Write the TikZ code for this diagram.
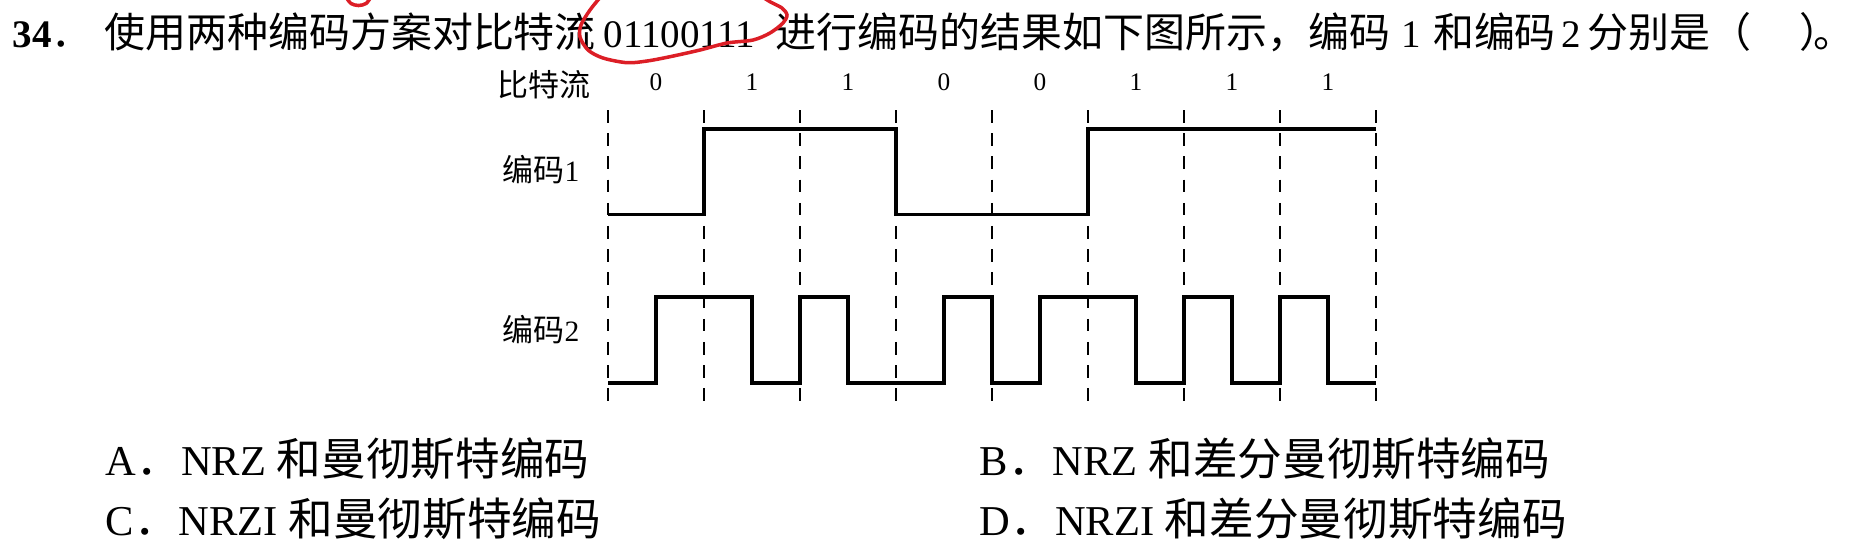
\documentclass[tikz,border=0pt]{standalone}
\usepackage{fontspec}
\setmainfont{Liberation Serif}
\newfontfamily\zh{Noto Sans CJK SC}[Scale=1.05]
\definecolor{pen}{RGB}{220,30,38}

\begin{document}
\begin{tikzpicture}[every node/.style={inner sep=0pt},
  sig/.style={line width=1pt},
  bnd/.style={line width=0.7pt,dash pattern=on 3.6pt off 3pt},
  ink/.style={pen,line width=1pt,line cap=round},
  qst/.style={font=\fontsize{11.1}{13}\selectfont,anchor=base west},
  opt/.style={font=\fontsize{12.1}{14}\selectfont,anchor=base west},
  lbl/.style={font=\fontsize{8.4}{10}\selectfont,anchor=west},
  bit/.style={font=\fontsize{7.2}{8}\selectfont}]
\useasboundingbox (0,0) rectangle (18.58,-5.56);
% levels: code 1 high/low, code 2 high/low
\def\hia{-1.29}\def\loa{-2.145}
\def\hib{-2.97}\def\lob{-3.83}
%------------- question
\node[qst] (q) at (0.12,-0.47) {\textbf{34}{\zh ．}\hspace{0.3em}{\zh 使用两种编码方案对比特流}\hspace{0.2em}01100111\hspace{0.52em}{\zh 进行编码的结果如下图所示，编码}\hspace{0.3em}1\hspace{0.3em}{\zh 和编码}\hspace{0.15em}2\hspace{0.15em}{\zh 分别是（}\hspace{1.25em}{\zh ）\kern-0.66em 。}};
% red pen marks
\draw[ink] plot[smooth] coordinates {(6.03,0.06) (5.90,-0.10) (5.81,-0.25) (5.80,-0.37) (5.88,-0.50) (6.03,-0.58) (6.27,-0.627) (6.47,-0.61) (6.70,-0.567) (7.00,-0.50) (7.27,-0.43) (7.53,-0.40) (7.70,-0.33) (7.83,-0.23) (7.87,-0.15) (7.82,-0.08) (7.70,-0.017) (7.58,0.06)};
\draw[ink] plot[smooth] coordinates {(3.46,0.03) (3.51,-0.035) (3.585,-0.055) (3.66,-0.035) (3.71,0.03)};
%------------- row labels
\node[lbl] (lbits) at (4.97,-0.85) {\zh 比特流};
\node[lbl] (lone) at (5.02,-1.695) {{\zh 编码}1};
\node[lbl] (ltwo) at (5.02,-3.30) {{\zh 编码}2};
%------------- waveforms, one unit = one bit cell
\begin{scope}[xshift=6.08cm,x=0.96cm]
\node[bit] (b0) at (0.5,-0.82) {0}; \node[bit] (b1) at (1.5,-0.82) {1};
\node[bit] (b2) at (2.5,-0.82) {1}; \node[bit] (b3) at (3.5,-0.82) {0};
\node[bit] (b4) at (4.5,-0.82) {0}; \node[bit] (b5) at (5.5,-0.82) {1};
\node[bit] (b6) at (6.5,-0.82) {1}; \node[bit] (b7) at (7.5,-0.82) {1};
\draw[bnd] (0,-1.10) -- (0,-4.02); \draw[bnd] (1,-1.10) -- (1,-4.02);
\draw[bnd] (2,-1.10) -- (2,-4.02); \draw[bnd] (3,-1.10) -- (3,-4.02);
\draw[bnd] (4,-1.10) -- (4,-4.02); \draw[bnd] (5,-1.10) -- (5,-4.02);
\draw[bnd] (6,-1.10) -- (6,-4.02); \draw[bnd] (7,-1.10) -- (7,-4.02);
\draw[bnd] (8,-1.10) -- (8,-4.02);
% code 1
\draw[sig] (0,\loa) -- (1,\loa) -- (1,\hia) -- (3,\hia) -- (3,\loa) -- (5,\loa) -- (5,\hia) -- (8,\hia);
% code 2
\draw[sig] (0,\lob) -- (0.5,\lob) -- (0.5,\hib) -- (1.5,\hib) -- (1.5,\lob) -- (2,\lob) -- (2,\hib) -- (2.5,\hib) -- (2.5,\lob)
  -- (3.5,\lob) -- (3.5,\hib) -- (4,\hib) -- (4,\lob) -- (4.5,\lob) -- (4.5,\hib) -- (5.5,\hib) -- (5.5,\lob)
  -- (6,\lob) -- (6,\hib) -- (6.5,\hib) -- (6.5,\lob) -- (7,\lob) -- (7,\hib) -- (7.5,\hib) -- (7.5,\lob) -- (8,\lob);
\end{scope}
%------------- choices
\node[opt] (oa) at (1.05,-4.75) {A{\zh ．}NRZ {\zh 和曼彻斯特编码}};
\node[opt] (ob) at (9.79,-4.75) {B{\zh ．}NRZ {\zh 和差分曼彻斯特编码}};
\node[opt] (oc) at (1.05,-5.35) {C{\zh ．}NRZI {\zh 和曼彻斯特编码}};
\node[opt] (od) at (9.79,-5.35) {D{\zh ．}NRZI {\zh 和差分曼彻斯特编码}};
\end{tikzpicture}
\end{document}
